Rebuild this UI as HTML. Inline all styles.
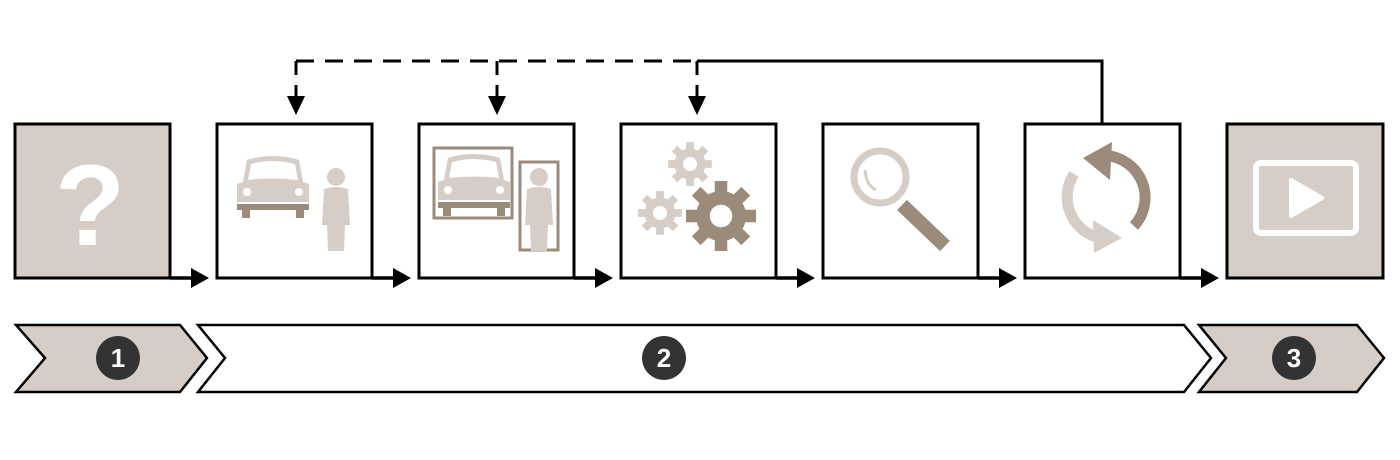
<!DOCTYPE html>
<html><head><meta charset="utf-8"><style>
html,body{margin:0;padding:0;background:#fff;}
svg{display:block;}
text{font-family:"Liberation Sans",sans-serif;font-weight:bold;}
</style></head><body>
<svg width="1400" height="460" viewBox="0 0 1400 460" xmlns="http://www.w3.org/2000/svg">
<defs>
<g id="gear">
<circle r="20" fill="currentColor"/>
<g fill="currentColor">
<rect x="-5" y="-28" width="10" height="56"/>
<rect x="-5" y="-28" width="10" height="56" transform="rotate(45)"/>
<rect x="-5" y="-28" width="10" height="56" transform="rotate(90)"/>
<rect x="-5" y="-28" width="10" height="56" transform="rotate(135)"/>
</g>
<circle r="9" fill="#fff"/>
</g>
<g id="car">
<path d="M8 8 Q34 0 60 8 L64 30 L70 32 L70 50 L-2 50 L-2 32 L4 30 Z" fill="#d6cec6"/>
<path d="M12 12 Q34 6 56 12 L59 28 Q34 25 9 28 Z" fill="#fff"/>
<circle cx="8" cy="40" r="4" fill="#fff"/><circle cx="60" cy="40" r="4" fill="#fff"/>
<rect x="-2" y="52" width="72" height="6" fill="#9b8b7b"/>
<rect x="3" y="56" width="8" height="10" fill="#9b8b7b"/>
<rect x="57" y="56" width="8" height="10" fill="#9b8b7b"/>
</g>
<g id="person" fill="#d6cec6">
<circle cx="15" cy="10" r="9"/>
<path d="M3 22 Q15 18 27 22 L29 58 L24 58 L23 84 L7 84 L6 58 L1 58 Z"/>
</g>
</defs>
<g fill="none" stroke="#000" stroke-width="3">
<path d="M296 61 H697" stroke-dasharray="18,11"/>
<path d="M296 61 V104 M497 61 V104 M697 61 V104" stroke-dasharray="14,10"/>
<path d="M697 61 H1102 V124"/>
</g>
<g fill="#000">
<path d="M287 96 L305 96 L296 115 Z"/><path d="M488 96 L506 96 L497 115 Z"/><path d="M688 96 L706 96 L697 115 Z"/>
</g>
<rect x="15" y="124" width="155" height="154" fill="#d6cec6" stroke="#000" stroke-width="3"/>
<rect x="1227" y="124" width="156" height="154" fill="#d6cec6" stroke="#000" stroke-width="3"/>
<g fill="#fff" stroke="#000" stroke-width="3">
<rect x="217" y="124" width="155" height="154"/>
<rect x="419" y="124" width="155" height="154"/>
<rect x="621" y="124" width="155" height="154"/>
<rect x="823" y="124" width="155" height="154"/>
<rect x="1025" y="124" width="155" height="154"/>
</g>
<g stroke="#000" stroke-width="3.5" fill="#000">
<path d="M170 278 H194"/><path d="M191 268 L209 278 L191 288 Z" stroke="none"/>
<path d="M372 278 H396"/><path d="M393 268 L411 278 L393 288 Z" stroke="none"/>
<path d="M574 278 H598"/><path d="M595 268 L613 278 L595 288 Z" stroke="none"/>
<path d="M776 278 H800"/><path d="M797 268 L815 278 L797 288 Z" stroke="none"/>
<path d="M978 278 H1002"/><path d="M999 268 L1017 278 L999 288 Z" stroke="none"/>
<path d="M1180 278 H1204"/><path d="M1201 268 L1219 278 L1201 288 Z" stroke="none"/>
</g>
<text x="90" y="245" text-anchor="middle" font-size="115" fill="#fff">?</text>
<use href="#car" x="239" y="152"/>
<use href="#person" x="321" y="167"/>
<rect x="434" y="148" width="78" height="70" fill="none" stroke="#9b8b7b" stroke-width="3"/>
<use href="#car" x="440" y="150"/>
<rect x="520" y="162" width="38" height="88" fill="none" stroke="#9b8b7b" stroke-width="3"/>
<use href="#person" x="524" y="167"/>
<g color="#d6cec6"><use href="#gear" transform="translate(690 164) scale(0.78)"/><use href="#gear" transform="translate(660 213) scale(0.78)"/></g>
<g color="#9b8b7b"><use href="#gear" transform="translate(721 216) scale(1.25)"/></g>
<circle cx="880" cy="177" r="26" fill="none" stroke="#d6cec6" stroke-width="7"/>
<path d="M865 170 Q866 185 876 190" fill="none" stroke="#d6cec6" stroke-width="3"/>
<path d="M902 205 L945 246" stroke="#9b8b7b" stroke-width="14"/>
<path d="M1097 156 A42 42 0 0 1 1134 226" fill="none" stroke="#9b8b7b" stroke-width="11"/>
<path d="M1112 142 L1083 158 L1110 180 Z" fill="#9b8b7b"/>
<path d="M1074 174 A42 42 0 0 0 1100 238" fill="none" stroke="#d6cec6" stroke-width="11"/>
<path d="M1093 220 L1122 238 L1094 253 Z" fill="#d6cec6"/>
<rect x="1256" y="163" width="100" height="70" rx="5" fill="none" stroke="#fff" stroke-width="6"/>
<path d="M1291 180 L1322 198 L1291 216 Z" fill="#fff" stroke="#fff" stroke-width="4" stroke-linejoin="round"/>
<path d="M16 325 H180 L207 358 L180 392 H16 L45 358 Z" fill="#d6cec6" stroke="#000" stroke-width="2.5"/>
<path d="M198 325 H1184 L1211 358 L1184 392 H198 L225 358 Z" fill="#fff" stroke="#000" stroke-width="2.5"/>
<path d="M1199 325 H1357 L1384 358 L1357 392 H1199 L1226 358 Z" fill="#d6cec6" stroke="#000" stroke-width="2.5"/>
<g fill="#333"><circle cx="118" cy="358" r="22"/><circle cx="664" cy="358" r="22"/><circle cx="1294" cy="358" r="22"/></g>
<g fill="#fff" font-size="26" text-anchor="middle">
<text x="118" y="367">1</text><text x="664" y="367">2</text><text x="1294" y="367">3</text>
</g>
</svg>
</body></html>
